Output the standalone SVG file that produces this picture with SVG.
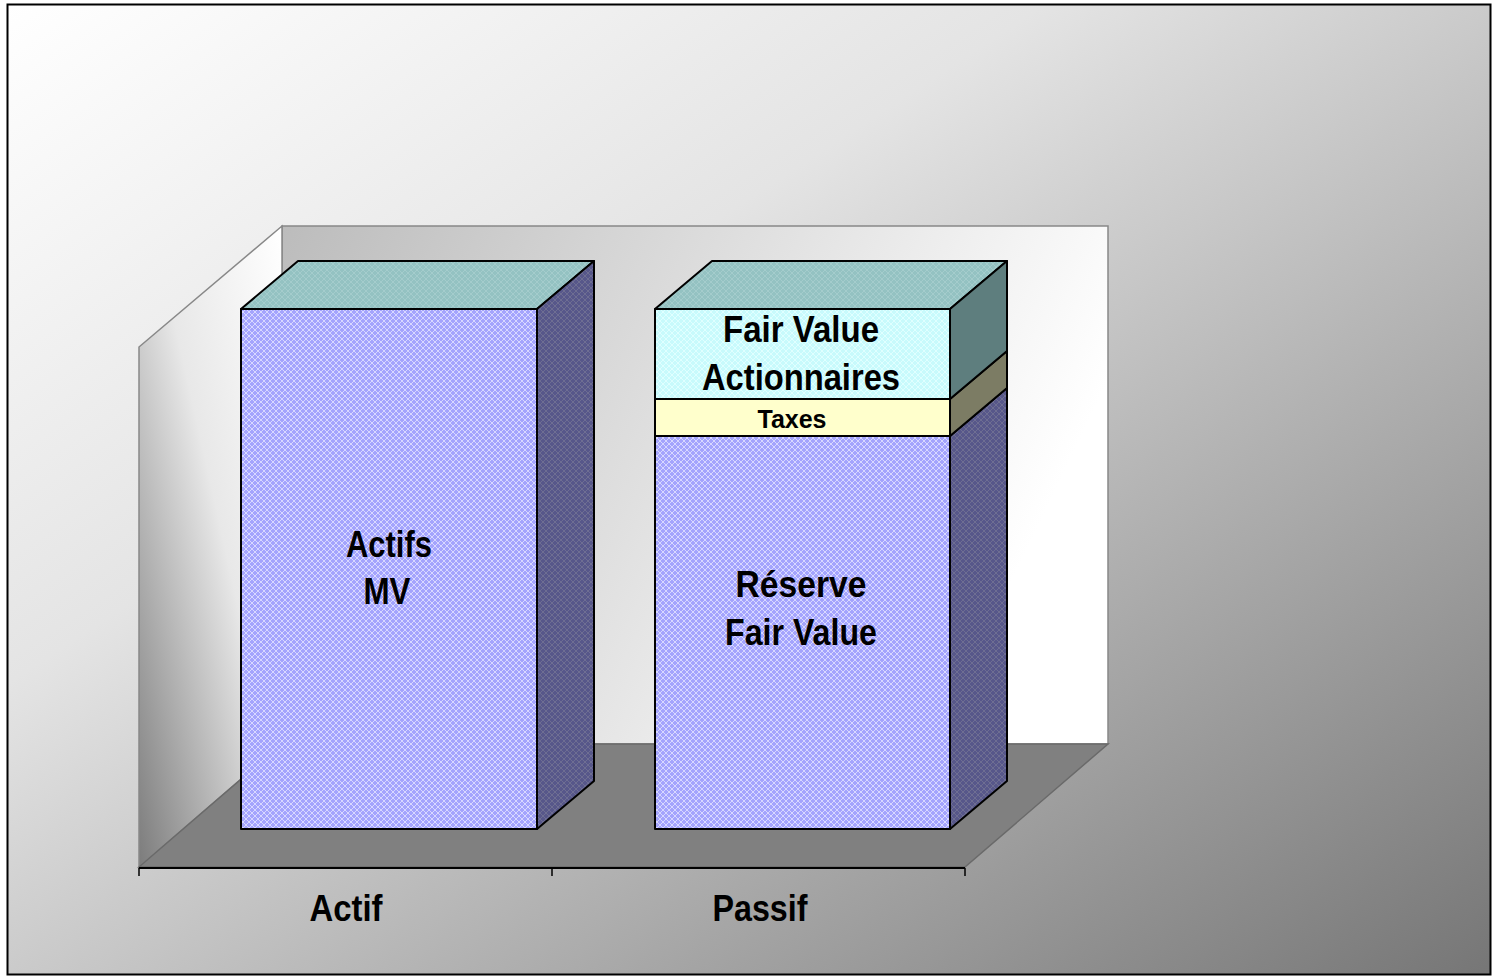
<svg xmlns="http://www.w3.org/2000/svg" width="1493" height="976" viewBox="0 0 1493 976">
<defs>
<linearGradient id="bg" x1="0" y1="0" x2="1" y2="1">
<stop offset="0" stop-color="#ffffff"/>
<stop offset="0.35" stop-color="#e4e4e4"/>
<stop offset="1" stop-color="#767676"/>
</linearGradient>
<linearGradient id="backwall" x1="0" y1="0" x2="1" y2="0.3">
<stop offset="0" stop-color="#bcbcbc"/>
<stop offset="1" stop-color="#ffffff"/>
</linearGradient>
<linearGradient id="sidewall" x1="1" y1="0" x2="0" y2="1">
<stop offset="0" stop-color="#ffffff"/>
<stop offset="0.45" stop-color="#e8e8e8"/>
<stop offset="1" stop-color="#7c7c7c"/>
</linearGradient>
<pattern id="pBlue" width="6" height="6" patternUnits="userSpaceOnUse">
<rect width="6" height="6" fill="#a4a4fd"/>
<path d="M0 3 L3 0 L6 3 L3 6 Z" fill="none" stroke="#d8d8ff" stroke-width="1"/>
</pattern>
<pattern id="pSide" width="6" height="6" patternUnits="userSpaceOnUse">
<rect width="6" height="6" fill="#57578a"/>
<path d="M0 3 L3 0 L6 3 L3 6 Z" fill="none" stroke="#6e6e92" stroke-width="1"/>
</pattern>
<pattern id="pTop" width="6" height="6" patternUnits="userSpaceOnUse">
<rect width="6" height="6" fill="#94c2c2"/>
<path d="M0 3 L3 0 L6 3 L3 6 Z" fill="none" stroke="#a4cccc" stroke-width="1"/>
</pattern>
<pattern id="pCyan" width="6" height="6" patternUnits="userSpaceOnUse">
<rect width="6" height="6" fill="#c8fafc"/>
<path d="M0 3 L3 0 L6 3 L3 6 Z" fill="none" stroke="#e0ffff" stroke-width="1"/>
</pattern>
</defs>
<style>
.wall{stroke:#888888;stroke-width:1.5}
.edge{stroke:#000000;stroke-width:2;stroke-linejoin:round}
.lbl{font-family:"Liberation Sans",Arial,sans-serif;font-weight:bold;fill:#000000;text-anchor:middle}
.big{font-size:37px}
.small{font-size:25px}
</style>
<rect x="7.5" y="4.5" width="1483" height="970" fill="url(#bg)" stroke="#000000" stroke-width="2"/>
<g id="chart-walls">
<polygon class="wall" points="282,226 1108,226 1108,744 282,744" fill="url(#backwall)"/>
<polygon class="wall" points="139,347 282,226 282,744 139,867" fill="url(#sidewall)"/>
<polygon points="139,867 282,744 1108,744 965,867" fill="#808080" stroke="#6a6a6a" stroke-width="1.5"/>
</g>
<g id="axis">
<line x1="139" y1="868" x2="965" y2="868" stroke="#000" stroke-width="2"/>
<line x1="139" y1="868" x2="139" y2="876" stroke="#000" stroke-width="1.5"/>
<line x1="552" y1="868" x2="552" y2="876" stroke="#000" stroke-width="1.5"/>
<line x1="965" y1="868" x2="965" y2="876" stroke="#000" stroke-width="1.5"/>
</g>
<g id="bar-actif">
<polygon class="edge" points="241,309 298,261 594,261 537,309" fill="url(#pTop)"/>
<polygon class="edge" points="537,309 594,261 594,781 537,829" fill="url(#pSide)"/>
<rect class="edge" x="241" y="309" width="296" height="520" fill="url(#pBlue)"/>
<text class="lbl big" x="389" y="557" textLength="86" lengthAdjust="spacingAndGlyphs">Actifs</text>
<text class="lbl big" x="387" y="604" textLength="47" lengthAdjust="spacingAndGlyphs">MV</text>
</g>
<g id="bar-passif">
<polygon class="edge" points="655,309 712,261 1007,261 950,309" fill="url(#pTop)"/>
<polygon class="edge" points="950,436 1007,388 1007,781 950,829" fill="url(#pSide)"/>
<polygon class="edge" points="950,399 1007,351 1007,388 950,436" fill="#7c7c64"/>
<polygon class="edge" points="950,309 1007,261 1007,351 950,399" fill="#5e7e7e"/>
<g id="seg-reserve">
<rect class="edge" x="655" y="436" width="295" height="393" fill="url(#pBlue)"/>
<text class="lbl big" x="801" y="597" textLength="131" lengthAdjust="spacingAndGlyphs">Réserve</text>
<text class="lbl big" x="801" y="645" textLength="152" lengthAdjust="spacingAndGlyphs">Fair Value</text>
</g>
<g id="seg-taxes">
<rect class="edge" x="655" y="399" width="295" height="37" fill="#ffffcc"/>
<text class="lbl small" x="792" y="428" textLength="69" lengthAdjust="spacingAndGlyphs">Taxes</text>
</g>
<g id="seg-fv-actionnaires">
<rect class="edge" x="655" y="309" width="295" height="90" fill="url(#pCyan)"/>
<text class="lbl big" x="801" y="342" textLength="156" lengthAdjust="spacingAndGlyphs">Fair Value</text>
<text class="lbl big" x="801" y="390" textLength="198" lengthAdjust="spacingAndGlyphs">Actionnaires</text>
</g>
</g>
<g id="category-labels">
<text class="lbl big" x="346" y="921" textLength="73" lengthAdjust="spacingAndGlyphs">Actif</text>
<text class="lbl big" x="760" y="921" textLength="95" lengthAdjust="spacingAndGlyphs">Passif</text>
</g>
</svg>
